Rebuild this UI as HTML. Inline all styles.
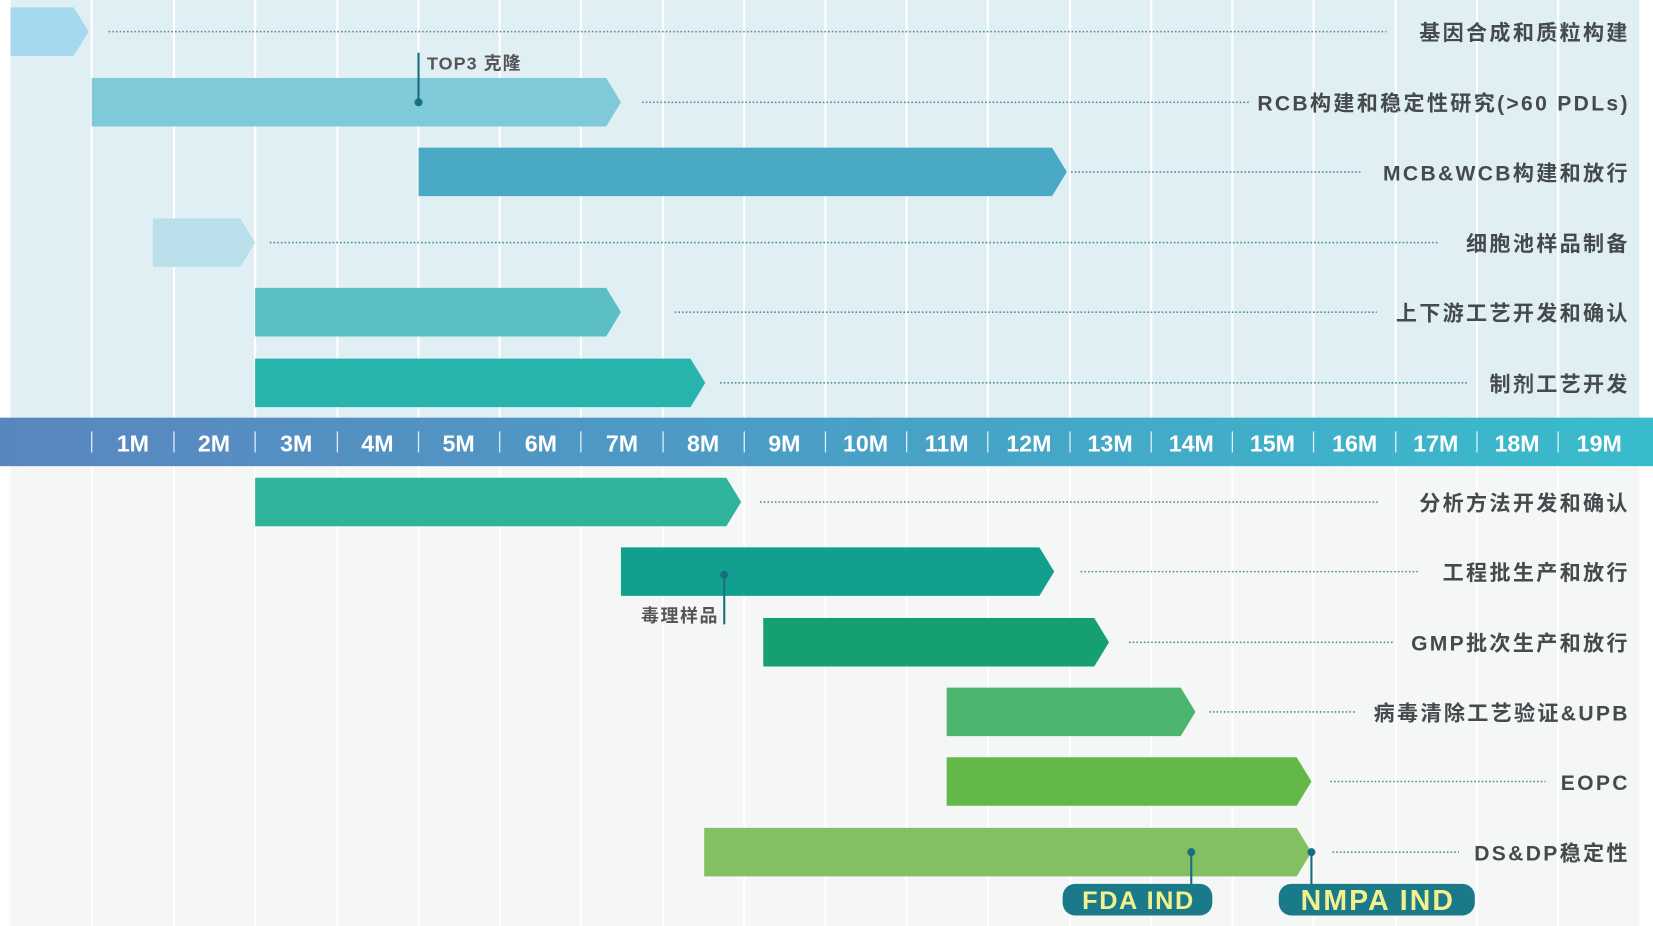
<!DOCTYPE html>
<html><head><meta charset="utf-8"><style>
html,body{margin:0;padding:0;background:#fff;}
svg{display:block}
text{font-family:"Liberation Sans","Noto Sans CJK SC",sans-serif;font-weight:bold}
</style></head><body>
<svg width="1653" height="926" viewBox="0 0 1568 878" preserveAspectRatio="none" xmlns="http://www.w3.org/2000/svg">
<defs>
<linearGradient id="band" x1="0" x2="1" y1="0" y2="0">
<stop offset="0" stop-color="#5a86c0"/><stop offset="0.5" stop-color="#4a9fc6"/><stop offset="1" stop-color="#38bccb"/>
</linearGradient>
</defs>
<rect x="0" y="0" width="1568" height="878" fill="#fff"/>
<rect x="10" y="0" width="1545" height="396" fill="#e0eff4"/>
<rect x="10" y="442" width="1545" height="436" fill="#f5f7f7"/>
<g stroke="#ffffff" stroke-width="2">
<line x1="87" y1="0" x2="87" y2="878"/><line x1="165" y1="0" x2="165" y2="878"/><line x1="242" y1="0" x2="242" y2="878"/><line x1="320" y1="0" x2="320" y2="878"/><line x1="397" y1="0" x2="397" y2="878"/><line x1="474" y1="0" x2="474" y2="878"/><line x1="551" y1="0" x2="551" y2="878"/><line x1="629" y1="0" x2="629" y2="878"/><line x1="706" y1="0" x2="706" y2="878"/><line x1="783" y1="0" x2="783" y2="878"/><line x1="860" y1="0" x2="860" y2="878"/><line x1="937" y1="0" x2="937" y2="878"/><line x1="1015" y1="0" x2="1015" y2="878"/><line x1="1092" y1="0" x2="1092" y2="878"/><line x1="1169" y1="0" x2="1169" y2="878"/><line x1="1246" y1="0" x2="1246" y2="878"/><line x1="1324" y1="0" x2="1324" y2="878"/><line x1="1401" y1="0" x2="1401" y2="878"/><line x1="1478" y1="0" x2="1478" y2="878"/>
</g>
<rect x="0" y="396" width="1568" height="46" fill="url(#band)"/>
<g stroke="#ffffff" stroke-width="1.2" opacity="0.85">
<line x1="87" y1="409" x2="87" y2="429"/><line x1="165" y1="409" x2="165" y2="429"/><line x1="242" y1="409" x2="242" y2="429"/><line x1="320" y1="409" x2="320" y2="429"/><line x1="397" y1="409" x2="397" y2="429"/><line x1="474" y1="409" x2="474" y2="429"/><line x1="551" y1="409" x2="551" y2="429"/><line x1="629" y1="409" x2="629" y2="429"/><line x1="706" y1="409" x2="706" y2="429"/><line x1="783" y1="409" x2="783" y2="429"/><line x1="860" y1="409" x2="860" y2="429"/><line x1="937" y1="409" x2="937" y2="429"/><line x1="1015" y1="409" x2="1015" y2="429"/><line x1="1092" y1="409" x2="1092" y2="429"/><line x1="1169" y1="409" x2="1169" y2="429"/><line x1="1246" y1="409" x2="1246" y2="429"/><line x1="1324" y1="409" x2="1324" y2="429"/><line x1="1401" y1="409" x2="1401" y2="429"/><line x1="1478" y1="409" x2="1478" y2="429"/>
</g>
<g fill="#ffffff" font-size="22" text-anchor="middle">
<text x="126" y="428">1M</text><text x="203" y="428">2M</text><text x="281" y="428">3M</text><text x="358" y="428">4M</text><text x="435" y="428">5M</text><text x="513" y="428">6M</text><text x="590" y="428">7M</text><text x="667" y="428">8M</text><text x="744" y="428">9M</text><text x="821" y="428">10M</text><text x="898" y="428">11M</text><text x="976" y="428">12M</text><text x="1053" y="428">13M</text><text x="1130" y="428">14M</text><text x="1207" y="428">15M</text><text x="1285" y="428">16M</text><text x="1362" y="428">17M</text><text x="1439" y="428">18M</text><text x="1517" y="428">19M</text>
</g>
<path d="M10 7H70L84 30L70 53H10Z" fill="#a6d9f0"/>
<path d="M87 74H575L589 97L575 120H87Z" fill="#7fc9d8"/>
<path d="M397 140H998L1012 163L998 186H397Z" fill="#4aaac5"/>
<path d="M145 207H228L242 230L228 253H145Z" fill="#b9e0ea"/>
<path d="M242 273H575L589 296L575 319H242Z" fill="#5bbfc3"/>
<path d="M242 340H655L669 363L655 386H242Z" fill="#26b4ad"/>
<path d="M242 453H689L703 476L689 499H242Z" fill="#30b39b"/>
<path d="M589 519H986L1000 542L986 565H589Z" fill="#12a08e"/>
<path d="M724 586H1038L1052 609L1038 632H724Z" fill="#17a06f"/>
<path d="M898 652H1120L1134 675L1120 698H898Z" fill="#4cb56f"/>
<path d="M898 718H1230L1244 741L1230 764H898Z" fill="#63b848"/>
<path d="M668 785H1230L1244 808L1230 831H668Z" fill="#83c061"/>
<g stroke="#4f8b98" stroke-width="1.5" stroke-dasharray="1.5 2">
<line x1="103" y1="30" x2="1315" y2="30"/>
<line x1="609" y1="97" x2="1186" y2="97"/>
<line x1="1016" y1="163" x2="1292" y2="163"/>
<line x1="256" y1="230" x2="1364" y2="230"/>
<line x1="640" y1="296" x2="1306" y2="296"/>
<line x1="683" y1="363" x2="1392" y2="363"/>
<line x1="721" y1="476" x2="1308" y2="476"/>
<line x1="1025" y1="542" x2="1345" y2="542"/>
<line x1="1071" y1="609" x2="1322" y2="609"/>
<line x1="1147" y1="675" x2="1286" y2="675"/>
<line x1="1262" y1="741" x2="1466" y2="741"/>
<line x1="1264" y1="808" x2="1384" y2="808"/>
</g>
<g fill="#454a4c" font-size="20" text-anchor="end" letter-spacing="2.2">
<text x="1546" y="38">基因合成和质粒构建</text>
<text x="1546" y="105">RCB构建和稳定性研究(&gt;60 PDLs)</text>
<text x="1546" y="171">MCB&amp;WCB构建和放行</text>
<text x="1546" y="238">细胞池样品制备</text>
<text x="1546" y="304">上下游工艺开发和确认</text>
<text x="1546" y="371">制剂工艺开发</text>
<text x="1546" y="484">分析方法开发和确认</text>
<text x="1546" y="550">工程批生产和放行</text>
<text x="1546" y="617">GMP批次生产和放行</text>
<text x="1546" y="683">病毒清除工艺验证&amp;UPB</text>
<text x="1546" y="749">EOPC</text>
<text x="1546" y="816">DS&amp;DP稳定性</text>
</g>
<g stroke="#176f7e" stroke-width="2" fill="#176f7e">
<line x1="397" y1="50" x2="397" y2="97"/><circle cx="397" cy="97" r="2.8"/>
<line x1="687" y1="545" x2="687" y2="592"/><circle cx="687" cy="545" r="2.8"/>
<line x1="1130" y1="808" x2="1130" y2="840"/><circle cx="1130" cy="808" r="2.8"/>
<line x1="1244" y1="808" x2="1244" y2="840"/><circle cx="1244" cy="808" r="2.8"/>
</g>
<text x="405" y="66" font-size="17" fill="#555" letter-spacing="1">TOP3 克隆</text>
<text x="682" y="590" font-size="17" fill="#555" text-anchor="end" letter-spacing="1.5">毒理样品</text>
<rect x="1008" y="838" width="142" height="30" rx="12" fill="#1b7a8a"/>
<rect x="1213" y="838" width="186" height="30" rx="12" fill="#1b7a8a"/>
<text x="1080" y="862" font-size="24" fill="#f3f08e" text-anchor="middle" letter-spacing="1.5">FDA IND</text>
<text x="1307" y="863" font-size="27" fill="#f3f08e" text-anchor="middle" letter-spacing="2">NMPA IND</text>
</svg>
</body></html>
